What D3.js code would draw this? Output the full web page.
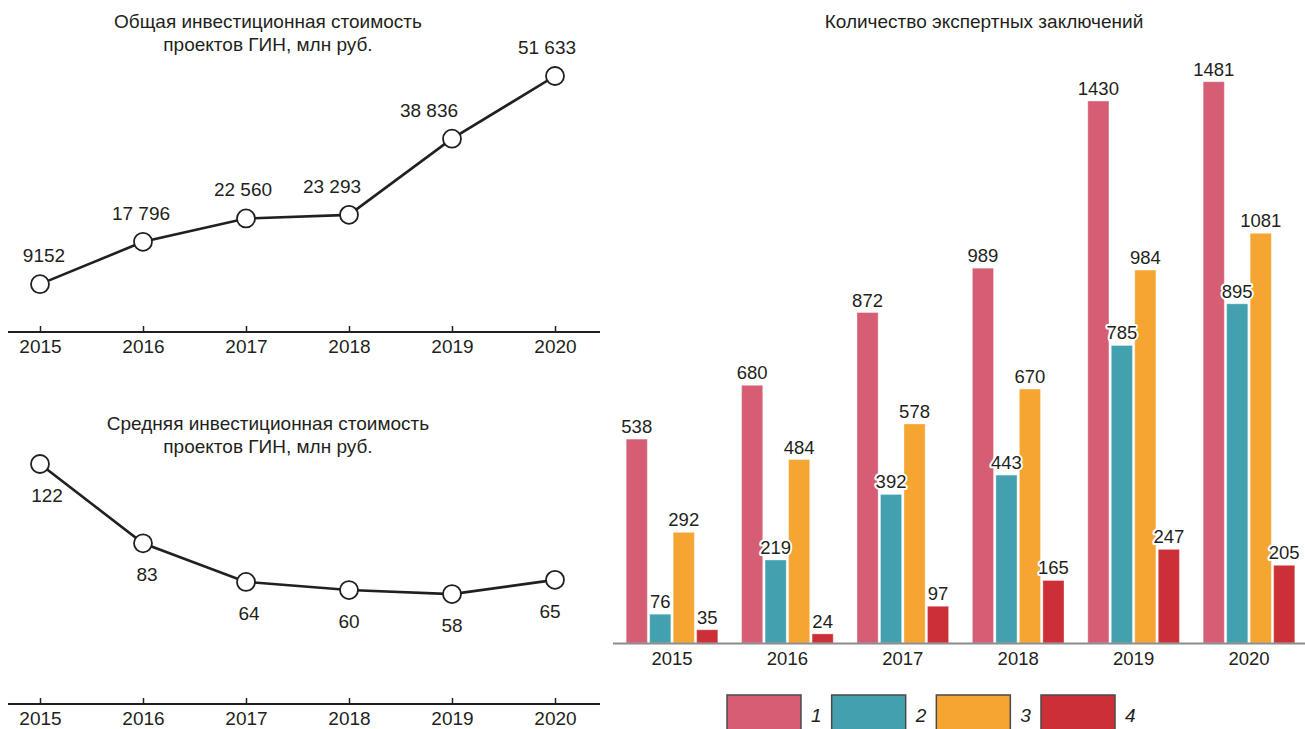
<!DOCTYPE html>
<html><head><meta charset="utf-8">
<script src="https://cdn.jsdelivr.net/npm/d3@7"></script>
<style>
html,body{margin:0;padding:0;background:#fff;overflow:hidden}
text{font-family:"Liberation Sans",Arial,sans-serif;fill:#231f20}
</style></head>
<body>
<svg id="c" width="1305" height="729"></svg>
<script>
// ---- data ----
const years = ["2015","2016","2017","2018","2019","2020"];
const totalCost = [9152, 17796, 22560, 23293, 38836, 51633];
const totalCostLabels = ["9152","17 796","22 560","23 293","38 836","51 633"];
const avgCost = [122, 83, 64, 60, 58, 65];
const seriesNames = ["1","2","3","4"];
const s1 = [538, 680, 872, 989, 1430, 1481];
const s2 = [76, 219, 392, 443, 785, 895];
const s3 = [292, 484, 578, 670, 984, 1081];
const s4 = [35, 24, 97, 165, 247, 205];
const titleTotal = ["Общая инвестиционная стоимость","проектов ГИН, млн руб."];
const titleAvg = ["Средняя инвестиционная стоимость","проектов ГИН, млн руб."];
const titleBars = "Количество экспертных заключений";
const colors = ["#d65e74","#43a1af","#f5a532","#cc2f36"];

const svg = d3.select("#c");
const ink = "#231f20";

function lineChart(values, labels, yRange, axisY, titleLines, titleY, above, labelDx) {
  const x = d3.scalePoint().domain(years).range([40, 555]);
  const y = d3.scaleLinear().domain([0, d3.max(values)]).range(yRange);
  const g = svg.append("g");
  titleLines.forEach((t, i) => {
    g.append("text").attr("x", 268).attr("y", titleY + i * 23)
      .attr("text-anchor", "middle").style("font-size", "19px").text(t);
  });
  g.append("line").attr("x1", 8).attr("x2", 600).attr("y1", axisY).attr("y2", axisY)
    .attr("stroke", ink).attr("stroke-width", 2);
  const ax = g.append("g").attr("transform", `translate(0,${axisY})`)
    .call(d3.axisBottom(x).tickSize(-6).tickSizeOuter(0).tickPadding(8));
  ax.select(".domain").remove();
  ax.selectAll(".tick line").attr("stroke", ink).attr("stroke-width", 1.5);
  ax.selectAll(".tick text").style("font-size", "19px").attr("fill", ink)
    .style("font-family", '"Liberation Sans",Arial,sans-serif');
  const data = years.map((yr, i) => ({yr, v: values[i], l: labels[i], dx: labelDx[i]}));
  g.append("path").datum(data)
    .attr("d", d3.line().x(d => x(d.yr)).y(d => y(d.v)))
    .attr("fill", "none").attr("stroke", ink).attr("stroke-width", 2.6);
  g.selectAll("circle").data(data).join("circle")
    .attr("cx", d => x(d.yr)).attr("cy", d => y(d.v)).attr("r", 9)
    .attr("fill", "#fff").attr("stroke", ink).attr("stroke-width", 1.8);
  g.selectAll(".lbl").data(data).join("text").attr("class", "lbl")
    .attr("x", d => x(d.yr) + d.dx)
    .attr("y", d => y(d.v) + (above ? -22 : 38))
    .attr("text-anchor", "middle").style("font-size", "19px").text(d => d.l);
}

lineChart(totalCost, totalCostLabels, [329, 76], 332, titleTotal, 28, true, [4, -2, -3, -17, -23, -8]);
lineChart(avgCost, avgCost.map(String), [712, 464], 704, titleAvg, 430, false, [7, 4, 3, 0, 0, -5]);

// ---- bar chart ----
const series = [s1, s2, s3, s4];
const xb = d3.scaleBand().domain(years).range([613.5, 1307.5]).paddingInner(0.206).paddingOuter(0.11);
const xs = d3.scaleBand().domain(seriesNames).range([0, xb.bandwidth()]).paddingInner(0.1);
const yb = d3.scaleLinear().domain([0, d3.max(s1)]).range([643, 81.7]);
const gb = svg.append("g");
gb.append("text").attr("x", 984).attr("y", 28).attr("text-anchor", "middle")
  .style("font-size", "19px").text(titleBars);
const bars = [];
years.forEach((yr, i) => series.forEach((s, j) => bars.push({yr, k: seriesNames[j], v: s[i], j})));
gb.selectAll("rect.bar").data(bars).join("rect").attr("class", "bar")
  .attr("x", d => xb(d.yr) + xs(d.k)).attr("width", xs.bandwidth())
  .attr("y", d => yb(d.v)).attr("height", d => yb(0) - yb(d.v))
  .attr("fill", d => colors[d.j]).attr("stroke", "rgba(255,255,255,0.35)").attr("stroke-width", 1);
gb.append("line").attr("x1", 613).attr("x2", 1305).attr("y1", 643.5).attr("y2", 643.5)
  .attr("stroke", "#8c8c8c").attr("stroke-width", 2);
gb.selectAll("text.val").data(bars).join("text").attr("class", "val")
  .attr("x", d => xb(d.yr) + xs(d.k) + xs.bandwidth() / 2)
  .attr("y", d => yb(d.v) - 6).attr("text-anchor", "middle")
  .style("font-size", "18.5px")
  .attr("stroke", "#fff").attr("stroke-width", 4).attr("stroke-linejoin", "round")
  .style("paint-order", "stroke").text(d => d.v);
const axb = gb.append("g").attr("transform", "translate(0,643)")
  .call(d3.axisBottom(xb).tickSize(0).tickPadding(9));
axb.select(".domain").remove();
axb.selectAll(".tick text").style("font-size", "18.5px").attr("fill", ink)
  .style("font-family", '"Liberation Sans",Arial,sans-serif');

// legend
const lg = svg.append("g");
const lx = d3.scalePoint().domain(seriesNames).range([727, 1041]);
seriesNames.forEach((n, j) => {
  lg.append("rect").attr("x", lx(n)).attr("y", 695).attr("width", 74).attr("height", 45)
    .attr("fill", colors[j]).attr("stroke", "#4a4a4a").attr("stroke-width", 1.5);
  lg.append("text").attr("x", lx(n) + 84).attr("y", 722).style("font-size", "19px")
    .style("font-style", "italic").text(n);
});
</script>
</body></html>
